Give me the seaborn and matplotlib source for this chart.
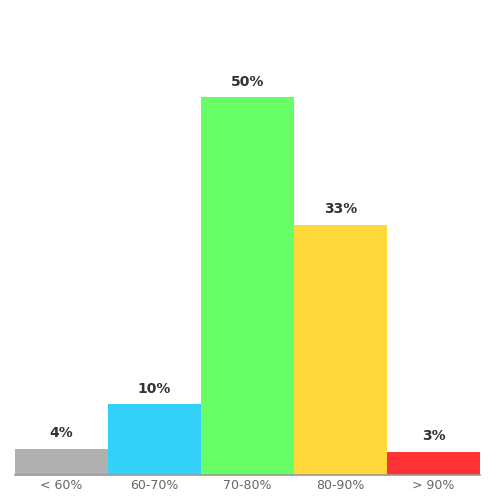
import matplotlib
matplotlib.use("Agg")
import matplotlib.pyplot as plt
import seaborn as sns
import pandas as pd

categories = ["< 60%", "60-70%", "70-80%", "80-90%", "> 90%"]
values = [3.5, 9.4, 50.0, 33.1, 3.1]
labels = ["4%", "10%", "50%", "33%", "3%"]
colors = ["#b0b0b0", "#33d1f7", "#66ff66", "#ffd83a", "#ff3333"]

df = pd.DataFrame({"range": categories, "share": values})

sns.set_style("white")
plt.rcParams["font.family"] = ["DejaVu Sans"]

fig = plt.figure(figsize=(5, 5), dpi=100)
ax = fig.add_axes([0.03, 0.05, 0.93, 0.907])

sns.barplot(data=df, x="range", y="share", hue="range", palette=colors,
            width=1.0, legend=False, ax=ax, saturation=1, linewidth=0)

for i, (v, lab) in enumerate(zip(values, labels)):
    ax.annotate(lab, (i, v), xytext=(0, 6), textcoords="offset points",
                ha="center", va="bottom", fontsize=10, fontweight="bold",
                color="#333333")

ax.set_xlim(-0.5, 4.5)
ax.set_ylim(0, 60)
ax.set_xlabel("")
ax.set_ylabel("")
ax.set_yticks([])
ax.tick_params(axis="x", length=0, labelsize=9, labelcolor="#666666", pad=3)
sns.despine(ax=ax, left=True)
ax.spines["bottom"].set_color("#999999")
ax.spines["bottom"].set_linewidth(1.2)

fig.savefig("out.png", dpi=100)
